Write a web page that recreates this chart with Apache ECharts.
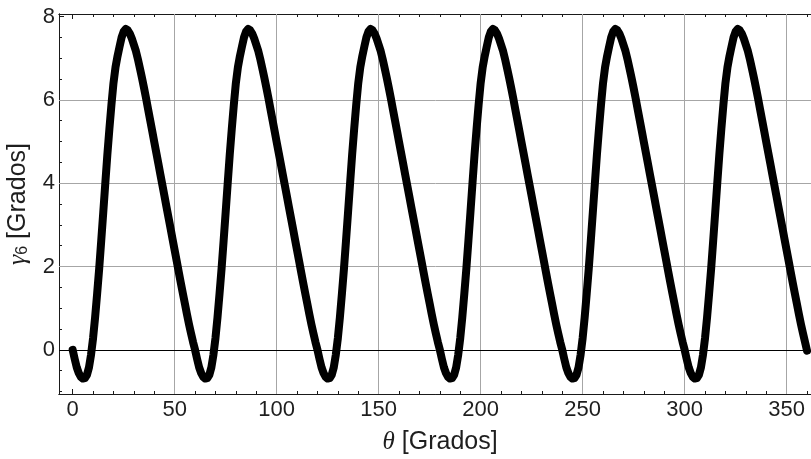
<!DOCTYPE html>
<html>
<head>
<meta charset="utf-8">
<script src="https://cdn.jsdelivr.net/npm/echarts@6/dist/echarts.min.js"></script>
<style>
html,body{margin:0;padding:0;background:#fff;}
#chart{width:811px;height:459px;}
</style>
</head>
<body>
<div id="chart"></div>
<script>
const thetaStep = 1;
const gammaP1 = [0.00,-0.22,-0.42,-0.56,-0.65,-0.69,-0.68,-0.60,-0.42,-0.12,0.28,0.78,1.35,1.95,2.62,3.30,4.00,4.68,5.30,5.88,6.40,6.78,7.05,7.28,7.50,7.64,7.70,7.67,7.59,7.47,7.32,7.17,6.97,6.75,6.52,6.28,6.03,5.77,5.51,5.25,4.99,4.73,4.47,4.21,3.95,3.69,3.43,3.17,2.91,2.65,2.39,2.13,1.87,1.61,1.36,1.11,0.86,0.62,0.40,0.19];
const gammaP2 = [0.00,-0.22,-0.42,-0.56,-0.65,-0.69,-0.68,-0.60,-0.42,-0.12,0.28,0.78,1.35,1.95,2.62,3.30,4.00,4.68,5.30,5.88,6.40,6.78,7.05,7.28,7.50,7.64,7.70,7.67,7.59,7.47,7.32,7.17,6.97,6.75,6.52,6.28,6.03,5.77,5.51,5.25,4.99,4.73,4.47,4.21,3.95,3.69,3.43,3.17,2.91,2.65,2.39,2.13,1.87,1.61,1.36,1.11,0.86,0.62,0.40,0.19];
const gammaP3 = [0.00,-0.22,-0.42,-0.56,-0.65,-0.69,-0.68,-0.60,-0.42,-0.12,0.28,0.78,1.35,1.95,2.62,3.30,4.00,4.68,5.30,5.88,6.40,6.78,7.05,7.28,7.50,7.64,7.70,7.67,7.59,7.47,7.32,7.17,6.97,6.75,6.52,6.28,6.03,5.77,5.51,5.25,4.99,4.73,4.47,4.21,3.95,3.69,3.43,3.17,2.91,2.65,2.39,2.13,1.87,1.61,1.36,1.11,0.86,0.62,0.40,0.19];
const gammaP4 = [0.00,-0.22,-0.42,-0.56,-0.65,-0.69,-0.68,-0.60,-0.42,-0.12,0.28,0.78,1.35,1.95,2.62,3.30,4.00,4.68,5.30,5.88,6.40,6.78,7.05,7.28,7.50,7.64,7.70,7.67,7.59,7.47,7.32,7.17,6.97,6.75,6.52,6.28,6.03,5.77,5.51,5.25,4.99,4.73,4.47,4.21,3.95,3.69,3.43,3.17,2.91,2.65,2.39,2.13,1.87,1.61,1.36,1.11,0.86,0.62,0.40,0.19];
const gammaP5 = [0.00,-0.22,-0.42,-0.56,-0.65,-0.69,-0.68,-0.60,-0.42,-0.12,0.28,0.78,1.35,1.95,2.62,3.30,4.00,4.68,5.30,5.88,6.40,6.78,7.05,7.28,7.50,7.64,7.70,7.67,7.59,7.47,7.32,7.17,6.97,6.75,6.52,6.28,6.03,5.77,5.51,5.25,4.99,4.73,4.47,4.21,3.95,3.69,3.43,3.17,2.91,2.65,2.39,2.13,1.87,1.61,1.36,1.11,0.86,0.62,0.40,0.19];
const gammaP6 = [0.00,-0.22,-0.42,-0.56,-0.65,-0.69,-0.68,-0.60,-0.42,-0.12,0.28,0.78,1.35,1.95,2.62,3.30,4.00,4.68,5.30,5.88,6.40,6.78,7.05,7.28,7.50,7.64,7.70,7.67,7.59,7.47,7.32,7.17,6.97,6.75,6.52,6.28,6.03,5.77,5.51,5.25,4.99,4.73,4.47,4.21,3.95,3.69,3.43,3.17,2.91,2.65,2.39,2.13,1.87,1.61,1.36,1.11,0.86,0.62,0.40,0.19];
const gammaEnd = [-0.02];

const xMajorTicks = [0, 50, 100, 150, 200, 250, 300, 350];
const xMinorTicks = [0,10,20,30,40,50,60,70,80,90,100,110,120,130,140,150,160,170,180,190,200,210,220,230,240,250,260,270,280,290,300,310,320,330,340,350,360];
const yMajorTicks = [0, 2, 4, 6, 8];
const yMinorTicks = [-1,-0.5,0,0.5,1,1.5,2,2.5,3,3.5,4,4.5,5,5.5,6,6.5,7,7.5,8];
const xGridLines = [50, 100, 150, 200, 250, 300, 350];
const yGridLines = [2, 4, 6];

const xMin = -6.7, xMax = 367;
const yMin = -1.06, yMax = 8.06;

const gamma6 = [].concat(gammaP1, gammaP2, gammaP3, gammaP4, gammaP5, gammaP6, gammaEnd);
const seriesData = gamma6.map((v, i) => [i * thetaStep, v]);

const frameColor = '#1a1a1a';
const labelFont = 'Liberation Sans, Arial, sans-serif';

function xAx(pos, ticks, len, labels, extra) {
  return Object.assign({
    type: 'value', position: pos, min: xMin, max: xMax,
    axisLine: { show: true, onZero: false, lineStyle: { color: frameColor, width: 1 } },
    axisTick: { show: true, inside: true, length: len, customValues: ticks, lineStyle: { color: frameColor, width: 1 } },
    axisLabel: labels ? { show: true, customValues: ticks, fontSize: 22, color: '#1e1e1e', fontFamily: labelFont, margin: 5 } : { show: false },
    splitLine: { show: false }
  }, extra || {});
}
function yAx(pos, ticks, len, labels, extra) {
  return Object.assign({
    type: 'value', position: pos, min: yMin, max: yMax,
    axisLine: { show: true, onZero: false, lineStyle: { color: frameColor, width: 1 } },
    axisTick: { show: true, inside: true, length: len, customValues: ticks, lineStyle: { color: frameColor, width: 1 } },
    axisLabel: labels ? { show: true, customValues: ticks, fontSize: 22, color: '#1e1e1e', fontFamily: labelFont, margin: 4 } : { show: false },
    splitLine: { show: false }
  }, extra || {});
}

const chart = echarts.init(document.getElementById('chart'), null, { renderer: 'canvas' });
chart.setOption({
  animation: false,
  backgroundColor: '#fff',
  grid: { left: 59, top: 14, width: 762.3, height: 380, containLabel: false, outerBoundsMode: 'none' },
  xAxis: [
    xAx('bottom', xMajorTicks, 5, true, {
      name: '{t|θ} [Grados]', nameLocation: 'middle', nameGap: 36,
      nameTextStyle: { fontSize: 25, color: '#1e1e1e', fontFamily: labelFont,
        rich: { t: { fontSize: 25, fontStyle: 'italic', fontFamily: 'Liberation Serif, serif', color: '#1e1e1e' } } }
    }),
    xAx('bottom', xMinorTicks, 3, false),
    xAx('top', xMajorTicks, 5, false),
    xAx('top', xMinorTicks, 3, false)
  ],
  yAxis: [
    yAx('left', yMajorTicks, 5, true, {
      name: '{g|γ}{s|6} [Grados]', nameLocation: 'middle', nameGap: 28, nameRotate: 90,
      nameTextStyle: { fontSize: 25, color: '#1e1e1e', fontFamily: labelFont,
        rich: {
          g: { fontSize: 26, fontStyle: 'italic', fontFamily: 'Liberation Serif, serif', color: '#1e1e1e' },
          s: { fontSize: 16, color: '#1e1e1e', fontFamily: labelFont, verticalAlign: 'bottom' }
        } }
    }),
    yAx('left', yMinorTicks, 3, false)
  ],
  series: [
    {
      type: 'line', data: [], z: 1, silent: true, xAxisIndex: 0, yAxisIndex: 0,
      markLine: {
        silent: true, symbol: 'none', animation: false,
        label: { show: false },
        lineStyle: { color: '#a6a6a6', width: 1, type: 'solid' },
        emphasis: { disabled: true },
        data: xGridLines.map(v => ({ xAxis: v }))
          .concat(yGridLines.map(v => ({ yAxis: v })))
          .concat([{ yAxis: 0, lineStyle: { color: '#000', width: 1, type: 'solid' } }])
      }
    },
    {
      type: 'line', data: seriesData, z: 5, xAxisIndex: 0, yAxisIndex: 0,
      showSymbol: false, symbol: 'none', smooth: false,
      lineStyle: { color: '#000', width: 8, cap: 'round', join: 'round' }
    }
  ]
});
</script>
</body>
</html>
